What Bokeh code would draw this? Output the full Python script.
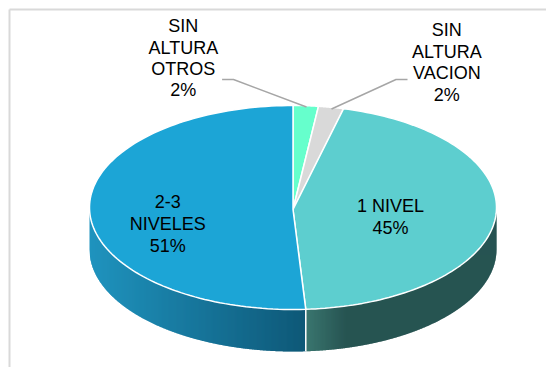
import numpy as np
from bokeh.plotting import figure
from bokeh.embed import file_html
from bokeh.resources import INLINE
from bokeh.core.properties import value

categories = ["SIN ALTURA OTROS", "SIN ALTURA VACION", "1 NIVEL", "2-3 NIVELES"]
shares = [2, 2, 45, 51]
top_colors = ["#66FFCC", "#D9D9D9", "#5DCECF", "#1CA5D6"]
percent_labels = ["2%", "2%", "45%", "51%"]

label_lines = [["SIN", "ALTURA", "OTROS", "2%"], ["SIN", "ALTURA", "VACION", "2%"],
               ["1 NIVEL", "45%"], ["2-3", "NIVELES", "51%"]]
label_x = [182.8, 446.3, 390, 167.3]
label_y = [[25.5, 47, 68, 89.5], [29.5, 51, 72, 94], [205.5, 227.5], [201, 223, 245]]

CX, CY, RX, RY, DEPTH = 292.5, 207, 203.5, 102, 42

p = figure(width=546, height=367, x_range=(0, 546), y_range=(367, 0),
           output_backend="svg", toolbar_location=None, min_border=0)
p.axis.visible = False
p.grid.visible = False
p.outline_line_color = None
p.background_fill_color = "white"

# frame
p.line([9, 9], [367, 9], line_color="#D9D9D9", line_width=2)
p.line([9, 546], [9, 9], line_color="#D9D9D9", line_width=2)

fr = np.cumsum([0] + shares) / sum(shares)
split_x = CX + RX * np.sin(2 * np.pi * fr[3])

def mix(a, b, t):
    a = np.array([int(a[i:i + 2], 16) for i in (1, 3, 5)], float)
    b = np.array([int(b[i:i + 2], 16) for i in (1, 3, 5)], float)
    c = a + (b - a) * t
    return "#%02x%02x%02x" % tuple(int(round(v)) for v in c)

def strip(x0, x1):
    xs = np.linspace(x0, x1, 4)
    ys = CY + RY * np.sqrt(np.clip(1 - ((xs - CX) / RX) ** 2, 0, 1))
    return list(xs) + list(xs[::-1]), list(ys) + list(ys[::-1] + DEPTH)

sx, sy, sc = [], [], []
for x0 in np.arange(CX - RX, split_x, 1.0):
    t = (x0 - (CX - RX)) / (split_x - (CX - RX))
    xs, ys = strip(x0, min(x0 + 1.6, split_x))
    sx.append(xs); sy.append(ys); sc.append(mix("#1F93BE", "#0E5877", t))
for x0 in np.arange(split_x, CX + RX, 1.0):
    t = min((x0 - split_x) / 40, 1)
    xs, ys = strip(x0, min(x0 + 1.6, CX + RX))
    sx.append(xs); sy.append(ys); sc.append(mix("#3A766F", "#275452", t))
p.patches(sx, sy, fill_color=sc, line_color=None)

# split on the side
sy0 = CY + RY * np.sqrt(1 - ((split_x - CX) / RX) ** 2)
p.line([split_x, split_x], [sy0, sy0 + DEPTH], line_color="white", line_width=1.5)

# top face
for i, c in enumerate(top_colors):
    th = 2 * np.pi * np.linspace(fr[i], fr[i + 1], 120)
    xs = [CX] + list(CX + RX * np.sin(th))
    ys = [CY + 2] + list(CY - RY * np.cos(th))
    p.patch(xs, ys, fill_color=c, line_color="white", line_width=1.5)

# leader lines
p.line([221.6, 233, 306], [79, 79, 106.5], line_color="#A6A6A6", line_width=1.5)
p.line([407, 395.5, 331], [79, 79, 108.5], line_color="#A6A6A6", line_width=1.5)

# labels
tx, ty, tt = [], [], []
for lines, x, ys in zip(label_lines, label_x, label_y):
    for t, y in zip(lines, ys):
        tx.append(x); ty.append(y); tt.append(t)
p.text(tx, ty, text=tt, text_font=value("Liberation Sans"), text_font_size="18px",
       text_align="center", text_baseline="middle", text_color="#000000")

open("out.html", "w").write(file_html(p, INLINE))
